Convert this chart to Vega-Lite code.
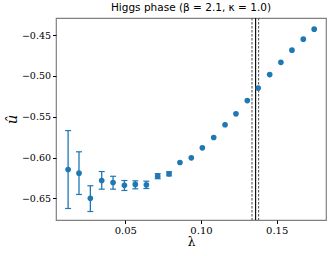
{
  "$schema": "https://vega.github.io/schema/vega-lite/v6.json",
  "autosize": "none",
  "width": 270,
  "height": 202,
  "padding": {"left": 56, "top": 18, "right": 6, "bottom": 36},
  "config": {"view": {"stroke": "#808080", "strokeWidth": 1.2}, "background": "white"},
  "title": {"text": "Higgs phase (β = 2.1, κ = 1.0)", "font": "DejaVu Sans", "fontSize": 10.5, "fontWeight": "normal", "color": "black", "offset": 4},
  "datasets": {
    "pts": [
      {"lam": 0.0122, "u": -0.6147, "lo": -0.6625, "hi": -0.5670},
      {"lam": 0.0194, "u": -0.6192, "lo": -0.6453, "hi": -0.5930},
      {"lam": 0.0269, "u": -0.6500, "lo": -0.6662, "hi": -0.6346},
      {"lam": 0.0344, "u": -0.6282, "lo": -0.6388, "hi": -0.6172},
      {"lam": 0.0419, "u": -0.6306, "lo": -0.6388, "hi": -0.6230},
      {"lam": 0.0494, "u": -0.6340, "lo": -0.6404, "hi": -0.6282},
      {"lam": 0.0566, "u": -0.6330, "lo": -0.6384, "hi": -0.6286},
      {"lam": 0.0639, "u": -0.6335, "lo": -0.6380, "hi": -0.6290},
      {"lam": 0.0714, "u": -0.6229, "lo": -0.6260, "hi": -0.6198},
      {"lam": 0.0789, "u": -0.6200, "lo": -0.6225, "hi": -0.6175},
      {"lam": 0.0861, "u": -0.6061},
      {"lam": 0.0936, "u": -0.6004},
      {"lam": 0.1009, "u": -0.5881},
      {"lam": 0.1084, "u": -0.5755},
      {"lam": 0.1159, "u": -0.5599},
      {"lam": 0.1231, "u": -0.5465},
      {"lam": 0.1306, "u": -0.5302},
      {"lam": 0.1378, "u": -0.5149},
      {"lam": 0.1454, "u": -0.4984},
      {"lam": 0.1528, "u": -0.4833},
      {"lam": 0.1601, "u": -0.4684},
      {"lam": 0.1676, "u": -0.4549},
      {"lam": 0.1748, "u": -0.4427}
    ],
    "lines": [
      {"lam": 0.1361, "kind": "solid"},
      {"lam": 0.1337, "kind": "dashed"},
      {"lam": 0.1381, "kind": "dashed"}
    ]
  },
  "layer": [
    {
      "data": {"name": "lines"},
      "transform": [{"filter": "datum.kind == 'dashed'"}],
      "mark": {"type": "rule", "color": "#444", "strokeWidth": 1, "strokeDash": [2.5, 1.5]},
      "encoding": {"x": {"field": "lam", "type": "quantitative"}}
    },
    {
      "data": {"name": "lines"},
      "transform": [{"filter": "datum.kind == 'solid'"}],
      "mark": {"type": "rule", "color": "black", "strokeWidth": 1.1},
      "encoding": {"x": {"field": "lam", "type": "quantitative"}}
    },
    {
      "data": {"name": "pts"},
      "transform": [{"filter": "isValid(datum.lo)"}],
      "mark": {"type": "rule", "color": "#1f77b4", "strokeWidth": 1.3},
      "encoding": {
        "x": {"field": "lam", "type": "quantitative"},
        "y": {"field": "lo", "type": "quantitative"},
        "y2": {"field": "hi"}
      }
    },
    {
      "data": {"name": "pts"},
      "transform": [{"filter": "isValid(datum.lo)"}],
      "mark": {"type": "tick", "orient": "horizontal", "color": "#1f77b4", "size": 6, "thickness": 1.2, "opacity": 1},
      "encoding": {
        "x": {"field": "lam", "type": "quantitative"},
        "y": {"field": "lo", "type": "quantitative"}
      }
    },
    {
      "data": {"name": "pts"},
      "transform": [{"filter": "isValid(datum.hi)"}],
      "mark": {"type": "tick", "orient": "horizontal", "color": "#1f77b4", "size": 6, "thickness": 1.2, "opacity": 1},
      "encoding": {
        "x": {"field": "lam", "type": "quantitative"},
        "y": {"field": "hi", "type": "quantitative"}
      }
    },
    {
      "data": {"name": "pts"},
      "mark": {"type": "circle", "color": "#1f77b4", "size": 32, "opacity": 1},
      "encoding": {
        "x": {
          "field": "lam", "type": "quantitative",
          "scale": {"domain": [0.0042, 0.1826], "nice": false, "zero": false},
          "axis": {"values": [0.05, 0.10, 0.15], "format": ".2f", "grid": false, "domain": false, "tickSize": 3.5, "tickColor": "black",
                   "labelFont": "DejaVu Serif", "labelFontSize": 10, "labelColor": "black", "labelPadding": 2,
                   "title": "λ", "titleFont": "DejaVu Serif", "titleFontWeight": "normal", "titleFontSize": 12, "titlePadding": 1, "titleColor": "black"}
        },
        "y": {
          "field": "u", "type": "quantitative",
          "scale": {"domain": [-0.6766, -0.429], "nice": false, "zero": false},
          "axis": {"values": [-0.65, -0.60, -0.55, -0.50, -0.45], "format": ".2f", "grid": false, "domain": false, "tickSize": 3.5, "tickColor": "black",
                   "labelFont": "DejaVu Serif", "labelFontSize": 9.5, "labelColor": "black", "labelPadding": 2,
                   "title": "û", "titleFont": "DejaVu Serif", "titleFontStyle": "italic", "titleFontWeight": "normal", "titleFontSize": 15, "titlePadding": 2, "titleColor": "black"}
        }
      }
    }
  ]
}
